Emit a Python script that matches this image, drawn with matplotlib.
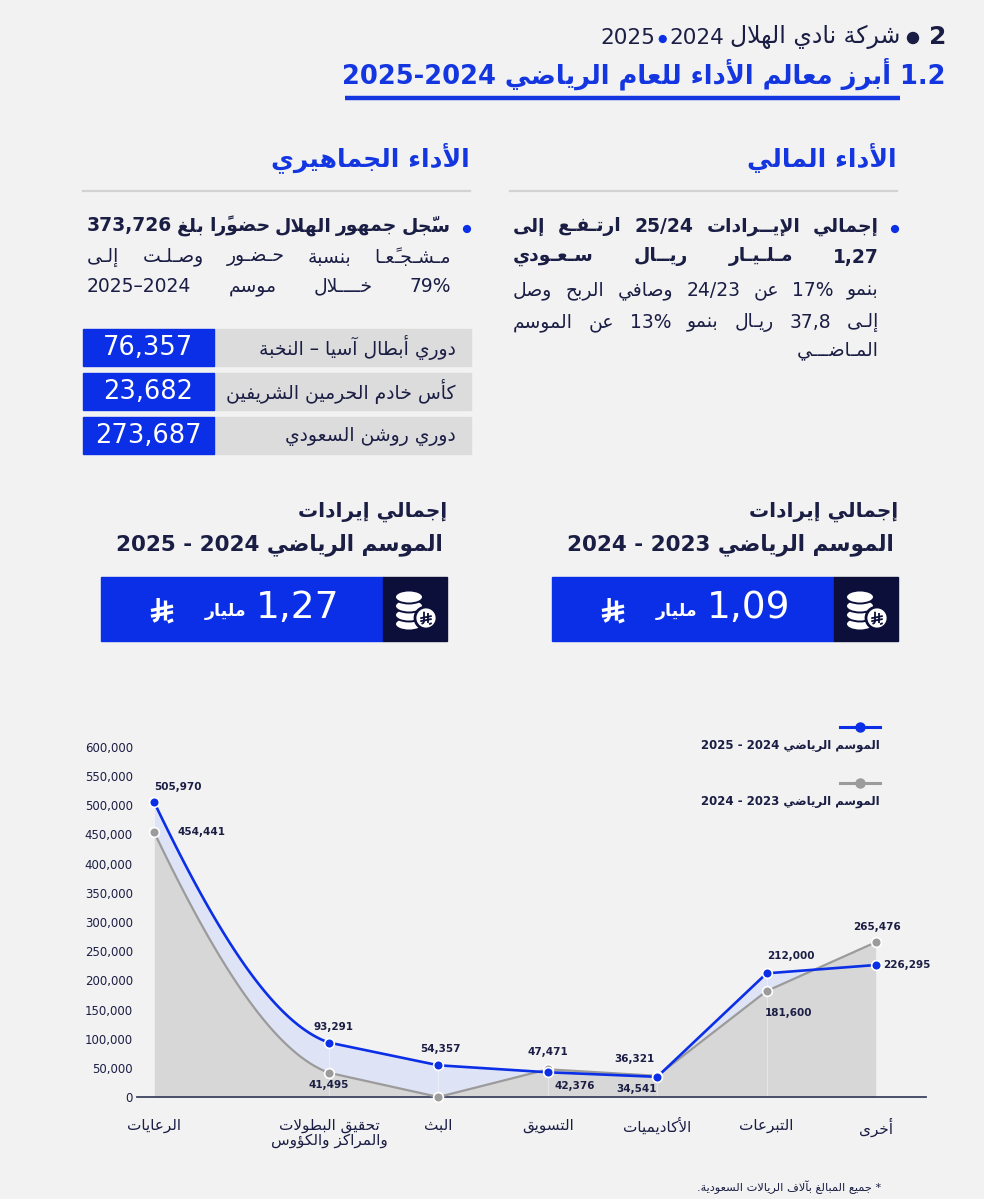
import re
import numpy as np
import matplotlib
matplotlib.use('Agg')
import matplotlib.pyplot as plt
from matplotlib.patches import Rectangle, Circle, Ellipse

# ---------------- data ----------------
categories = ['الرعايات', 'تحقيق البطولات\nوالمراكز والكؤوس', 'البث', 'التسويق',
              'الأكاديميات', 'التبرعات', 'أخرى']
season_2425 = [505970, 93291, 54357, 42376, 34541, 212000, 226295]
season_2324 = [454441, 41495, 0, 47471, 36321, 181600, 265476]
series_names = ['الموسم الرياضي 2024 - 2025', 'الموسم الرياضي 2023 - 2024']
y_ticks = list(range(0, 600001, 50000))
attendance_labels = ['دوري أبطال آسيا – النخبة', 'كأس خادم الحرمين الشريفين', 'دوري روشن السعودي']
attendance_values = [76357, 23682, 273687]
revenue_titles = ['الموسم الرياضي 2024 - 2025', 'الموسم الرياضي 2023 - 2024']
revenue_totals = ['1,27', '1,09']

# ---------------- style ----------------
cat_pos = [0, 1.6, 2.6, 3.6, 4.6, 5.6, 6.6]
NAVY = '#1b1e44'
BLUE = '#0b2fe6'
LBLUE = '#1436e0'
DARK = '#0c0f3a'
GRAYL = '#9b9b9b'
BG = '#f2f2f2'
plt.rcParams['font.family'] = ['DejaVu Sans']

# ---------------- minimal Arabic shaping (presentation forms) + RTL ----------------
DUAL = {'ئ': 0xFE89, 'ب': 0xFE8F, 'ت': 0xFE95, 'ث': 0xFE99, 'ج': 0xFE9D, 'ح': 0xFEA1,
        'خ': 0xFEA5, 'س': 0xFEB1, 'ش': 0xFEB5, 'ص': 0xFEB9, 'ض': 0xFEBD, 'ط': 0xFEC1,
        'ظ': 0xFEC5, 'ع': 0xFEC9, 'غ': 0xFECD, 'ف': 0xFED1, 'ق': 0xFED5, 'ك': 0xFED9,
        'ل': 0xFEDD, 'م': 0xFEE1, 'ن': 0xFEE5, 'ه': 0xFEE9, 'ي': 0xFEF1}
RIGHT = {'آ': 0xFE81, 'أ': 0xFE83, 'ؤ': 0xFE85, 'إ': 0xFE87, 'ا': 0xFE8D, 'ة': 0xFE93,
         'د': 0xFEA9, 'ذ': 0xFEAB, 'ر': 0xFEAD, 'ز': 0xFEAF, 'و': 0xFEED, 'ى': 0xFEEF}
LAMALEF = {'آ': 0xFEF5, 'أ': 0xFEF7, 'إ': 0xFEF9, 'ا': 0xFEFB}
MARKS = set(chr(c) for c in range(0x064B, 0x0653)) | {'\u0670'}
TATWEEL = '\u0640'
LTR_RUN = re.compile(r'[0-9A-Za-z%][0-9A-Za-z%.,/\-–]*[0-9A-Za-z%]|[0-9A-Za-z%]')


def ar(s):
    items = []
    pos = 0
    for m in LTR_RUN.finditer(s):
        items += [('c', c) for c in s[pos:m.start()]]
        items.append(('l', m.group()))
        pos = m.end()
    items += [('c', c) for c in s[pos:]]
    units = []
    i, n = 0, len(items)
    while i < n:
        t, v = items[i]
        if t == 'l':
            units.append(['U', v, ''])
            i += 1
            continue
        if v in MARKS and units:
            units[-1][2] += v
            i += 1
            continue
        if v == 'ل':
            j, mk = i + 1, ''
            while j < n and items[j][0] == 'c' and items[j][1] in MARKS:
                mk += items[j][1]
                j += 1
            if j < n and items[j][0] == 'c' and items[j][1] in LAMALEF:
                units.append(['L', items[j][1], mk])
                i = j + 1
                continue
        k = 'D' if v in DUAL else 'R' if v in RIGHT else 'C' if v == TATWEEL else 'U'
        units.append([k, v, ''])
        i += 1
    out = []
    for idx, (k, v, mk) in enumerate(units):
        if k == 'U':
            out.append(v + mk)
            continue
        prev = units[idx - 1][0] if idx > 0 else 'U'
        nxt = units[idx + 1][0] if idx + 1 < len(units) else 'U'
        jp = prev in ('D', 'C')
        jn = nxt in ('D', 'R', 'C', 'L') and k in ('D', 'C')
        if k == 'C':
            g = v
        elif k == 'L':
            g = chr(LAMALEF[v] + (1 if jp else 0))
        elif k == 'R':
            g = chr(RIGHT[v] + (1 if jp else 0))
        else:
            b = DUAL[v]
            g = chr(b + 3) if (jp and jn) else chr(b + 1) if jp else chr(b + 2) if jn else chr(b)
        out.append(g + mk)
    return ''.join(reversed(out))


# ---------------- figure ----------------
fig = plt.figure(figsize=(9.84, 11.99), dpi=100)
fig.patch.set_facecolor(BG)
ax = fig.add_axes([0, 0, 1, 1])
ax.set_xlim(0, 984)
ax.set_ylim(1199, 0)
ax.axis('off')
renderer = fig.canvas.get_renderer()


def txt(x, y, s, size, weight='normal', color=NAVY, ha='right', va='center', z=5, shape=True):
    return ax.text(x, y, ar(s) if shape else s, fontsize=size, fontweight=weight, color=color,
                   ha=ha, va=va, zorder=z)


def width(t):
    return t.get_window_extent(renderer).width


def rtl_line(y, s, right, left=None, size=13, weight='normal', color=NAVY):
    if left is None:
        return txt(right, y, s, size, weight, color)
    words = s.split(' ')
    ts = [txt(0, y, w, size, weight, color) for w in words]
    ws = [width(t) for t in ts]
    gap = (right - left - sum(ws)) / max(len(ws) - 1, 1)
    x = right
    for t, w in zip(ts, ws):
        t.set_x(x)
        x -= w + gap


def riyal(cx, cy, h, color, lw=2.0, z=8):
    strokes = [
        [(-0.16, -0.50), (-0.16, 0.28), (-0.22, 0.40), (-0.36, 0.47)],
        [(0.14, -0.40), (0.14, 0.40)],
        [(-0.46, 0.02), (0.46, -0.16)],
        [(-0.46, 0.26), (0.46, 0.08)],
        [(0.24, 0.50), (0.46, 0.41)],
    ]
    for st in strokes:
        xs = [cx + p[0] * h for p in st]
        ys = [cy + p[1] * h for p in st]
        ax.plot(xs, ys, color=color, lw=lw, solid_capstyle='butt', zorder=z)


# ---------------- header ----------------
txt(946, 37, '2', 18, 'bold', NAVY, shape=False)
ax.add_patch(Circle((913, 38), 5.5, color=NAVY, zorder=5))
ta = txt(900, 37, 'شركة نادي الهلال', 17)
x = 900 - width(ta) - 5
ty1 = txt(x, 38, '2024', 15.5, shape=False)
x -= width(ty1) + 7
ax.add_patch(Circle((x, 39), 3.4, color=BLUE, zorder=5))
txt(x - 7, 38, '2025', 15.5, shape=False)

txt(946, 74, '1.2 أبرز معالم الأداء للعام الرياضي 2025-2024', 18.5, 'bold', LBLUE)
ax.plot([345, 900], [98, 98], color=LBLUE, lw=3.2, solid_capstyle='butt', zorder=5)

# ---------------- section headings ----------------
txt(897, 158, 'الأداء المالي', 18, 'bold', LBLUE)
txt(470, 158, 'الأداء الجماهيري', 18, 'bold', LBLUE)
ax.plot([510, 897], [191, 191], color='#d2d2d4', lw=1.6, zorder=5)
ax.plot([83, 470], [191, 191], color='#d2d2d4', lw=1.6, zorder=5)

# financial text
ax.add_patch(Circle((895, 229), 3.4, color=BLUE, zorder=5))
rtl_line(226, 'إجمالي الإيــرادات 25/24 ارتـفـع إلى', 879, 513, 13.5, 'bold')
rtl_line(257, '1,27 مـلـيـار ريــال سـعـودي', 879, 513, 13.5, 'bold')
rtl_line(291, 'بنمو 17% عن 24/23 وصافي الربح وصل', 879, 513, 13.5)
rtl_line(322, 'إلـى 37,8 ريـال بنمو 13% عن الموسم', 879, 513, 13.5)
rtl_line(351, 'المـاضـــي', 879, None, 13.5)

# attendance text
ax.add_patch(Circle((467, 229), 3.4, color=BLUE, zorder=5))
rtl_line(226, 'سجّل جمهور الهلال حضورًا بلغ 373,726', 451, 87, 13.5, 'bold')
rtl_line(257, 'مـشـجـعًـا بنسبة حـضـور وصـلـت إلـى', 451, 87, 13.5)
rtl_line(286, '79% خــــلال موسم 2025–2024', 451, 87, 13.5)

# attendance table
row_tops = [329, 373, 417]
for lab, val, top in zip(attendance_labels, attendance_values, row_tops):
    ax.add_patch(Rectangle((214, top), 257, 37, color='#dcdcdc', zorder=3))
    ax.add_patch(Rectangle((83, top), 131, 37, color=BLUE, zorder=3))
    txt(148, top + 19, f'{val:,}', 18.5, 'normal', 'white', ha='center', shape=False)
    txt(456, top + 19, lab, 13.5)

# revenue boxes
box_rights = [447, 898]
for title, total, r in zip(revenue_titles, revenue_totals, box_rights):
    txt(r, 512, 'إجمالي إيرادات', 14.5, 'bold')
    txt(r - 4, 545, title, 15.5, 'bold')
    left = r - 346
    ax.add_patch(Rectangle((left, 577), 282, 64, color=BLUE, zorder=3))
    ax.add_patch(Rectangle((left + 282, 577), 64, 64, color=DARK, zorder=3))
    cx, cy = left + 314, 609
    for k, dy in enumerate([15, 6, -3, -12]):
        ax.add_patch(Ellipse((cx - 6, cy + dy), 28, 13, fc='white', ec=DARK, lw=1.4, zorder=5 + k))
    ax.add_patch(Circle((cx + 11, cy + 9), 11, fc='white', ec=DARK, lw=2.0, zorder=10))
    riyal(cx + 11, cy + 9, 12.5, DARK, lw=1.3, z=11)
    txt(left + 197, 608, total, 27, 'normal', 'white', ha='center', shape=False)
    txt(left + 145, 611, 'مليار', 12.5, 'bold', 'white', ha='right')
    riyal(left + 61, 610, 24, 'white', lw=2.4, z=8)

# ---------------- chart ----------------
axc = fig.add_axes([137 / 984, (1199 - 1097) / 1199, (926 - 137) / 984, 350 / 1199])
axc.patch.set_alpha(0)
axc.set_xlim(-0.1554, 7.057)
axc.set_ylim(0, 600000)
for sp in ['top', 'right', 'left']:
    axc.spines[sp].set_visible(False)
axc.spines['bottom'].set_color('#3d4260')
axc.spines['bottom'].set_linewidth(1.3)
axc.set_yticks(y_ticks)
axc.set_yticklabels([f'{v:,}' for v in y_ticks], fontsize=8.5, color=NAVY)
axc.set_xticks(cat_pos)
axc.set_xticklabels(['\n'.join(ar(p) for p in c.split('\n')) for c in categories],
                    fontsize=11, color=NAVY, linespacing=1.0)
axc.tick_params(axis='y', length=0, pad=3)
axc.tick_params(axis='x', length=0, pad=15)


def smooth(xs, ys):
    xs = np.asarray(xs, float)
    ys = np.asarray(ys, float)
    h0, h1 = xs[1] - xs[0], xs[2] - xs[1]
    d0, d1 = (ys[1] - ys[0]) / h0, (ys[2] - ys[1]) / h1
    if d0 * d1 > 0:
        w1, w2 = 2 * h1 + h0, h1 + 2 * h0
        m1 = (w1 + w2) / (w1 / d0 + w2 / d1)
    else:
        m1 = 0.0
    m0 = ((2 * h0 + h1) * d0 - h0 * d1) / (h0 + h1)
    if np.sign(m0) != np.sign(d0):
        m0 = 0.0
    elif abs(m0) > 3 * abs(d0):
        m0 = 3 * d0
    t = np.linspace(0, 1, 80)
    h00 = 2 * t**3 - 3 * t**2 + 1
    h10 = t**3 - 2 * t**2 + t
    h01 = -2 * t**3 + 3 * t**2
    h11 = t**3 - t**2
    sx = xs[0] + t * h0
    sy = h00 * ys[0] + h10 * h0 * m0 + h01 * ys[1] + h11 * h0 * m1
    return np.concatenate([sx, xs[2:]]), np.concatenate([sy, ys[2:]])


bx, by = smooth(cat_pos, season_2425)
gx, gy = smooth(cat_pos, season_2324)
axc.fill_between(bx, by, 0, color='#dfe3f6', lw=0, zorder=1)
axc.fill_between(gx, gy, 0, color='#d7d7d7', lw=0, zorder=2)
for xp, b, g in zip(cat_pos, season_2425, season_2324):
    axc.plot([xp, xp], [0, max(b, g)], color='white', lw=0.8, alpha=0.4, zorder=2.5)
axc.plot(gx, gy, color=GRAYL, lw=1.6, zorder=3, clip_on=False)
axc.plot(bx, by, color=BLUE, lw=1.9, zorder=4, clip_on=False)
axc.plot(cat_pos, season_2324, 'o', color=GRAYL, ms=7, mec='white', mew=1.2, zorder=5, clip_on=False)
axc.plot(cat_pos, season_2425, 'o', color=BLUE, ms=7, mec='white', mew=1.2, zorder=6, clip_on=False)

blue_off = [(24, -15), (4, -16), (2, -16), (27, 14), (-21, 12), (24, -17), (7, 0)]
gray_off = [(48, 0), (0, 12), None, (0, -17), (-23, -17), (22, 22), (1, -15)]
for xp, v, off in zip(cat_pos, season_2425, blue_off):
    ha = 'left' if off == (7, 0) else 'center'
    axc.annotate(f'{v:,}', (xp, v), xytext=(off[0], -off[1]), textcoords='offset pixels',
                 ha=ha, va='center', fontsize=7.5, fontweight='bold', color=NAVY, zorder=7)
for xp, v, off in zip(cat_pos, season_2324, gray_off):
    if off is None:
        continue
    axc.annotate(f'{v:,}', (xp, v), xytext=(off[0], -off[1]), textcoords='offset pixels',
                 ha='center', va='center', fontsize=7.5, fontweight='bold', color=NAVY, zorder=7)

# legend
for (yl, yt, col, name) in [(727, 746, BLUE, series_names[0]), (783, 802, GRAYL, series_names[1])]:
    ax.plot([840, 880], [yl, yl], color=col, lw=2.2, zorder=5)
    ax.plot([860], [yl], 'o', color=col, ms=6.5, zorder=6)
    txt(880, yt, name, 8.5, 'bold')

# footnote
txt(881, 1187, '* جميع المبالغ بآلاف الريالات السعودية.', 8.2)

fig.savefig('out.png', dpi=100, facecolor=BG)
